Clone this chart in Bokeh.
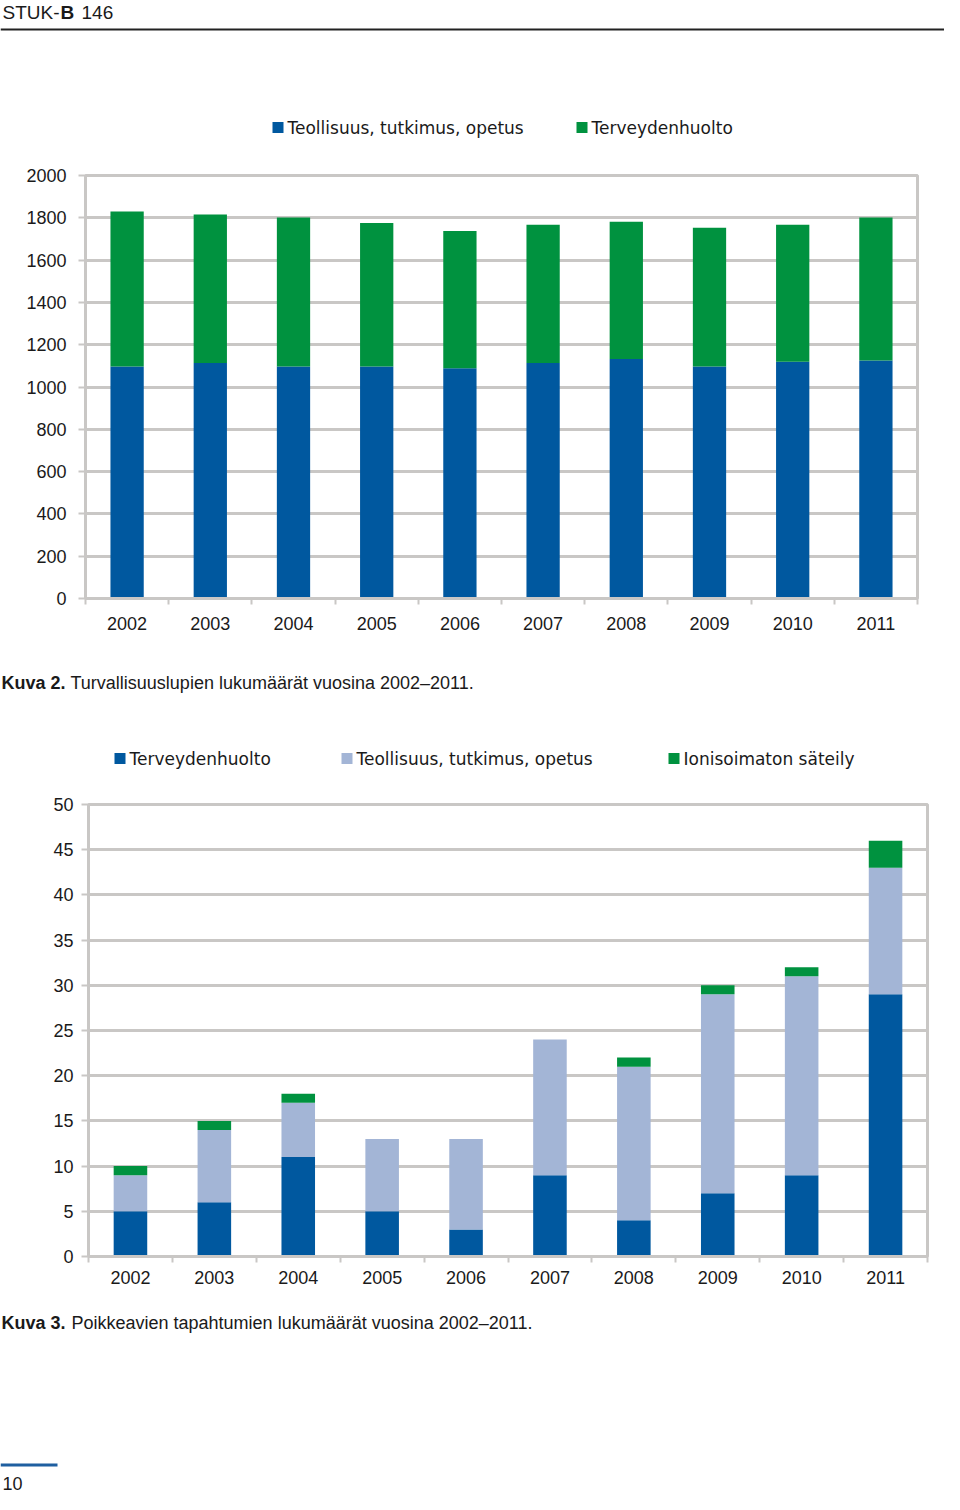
from bokeh.plotting import figure
from bokeh.models import (ColumnDataSource, Range1d, FixedTicker, Label, BoxAnnotation)
from bokeh.layouts import column
from bokeh.embed import file_html
from bokeh.resources import INLINE

# ---------------- data ----------------
years = ["2002", "2003", "2004", "2005", "2006", "2007", "2008", "2009", "2010", "2011"]

# Kuva 2: Turvallisuuslupien lukumäärät
lupa_teollisuus = [1097, 1113, 1097, 1097, 1089, 1114, 1132, 1097, 1119, 1125]
lupa_terveydenhuolto = [733, 703, 704, 678, 648, 653, 649, 656, 648, 676]
lupa_ticks = [0, 200, 400, 600, 800, 1000, 1200, 1400, 1600, 1800, 2000]
lupa_series = ["Teollisuus, tutkimus, opetus", "Terveydenhuolto"]

# Kuva 3: Poikkeavien tapahtumien lukumäärät
tap_terveydenhuolto = [5, 6, 11, 5, 3, 9, 4, 7, 9, 29]
tap_teollisuus = [4, 8, 6, 8, 10, 15, 17, 22, 22, 14]
tap_ionisoimaton = [1, 1, 1, 0, 0, 0, 1, 1, 1, 3]
tap_ticks = [0, 5, 10, 15, 20, 25, 30, 35, 40, 45, 50]
tap_series = ["Terveydenhuolto", "Teollisuus, tutkimus, opetus", "Ionisoimaton säteily"]

# ---------------- style ----------------
BLUE = "#00589f"
GREEN = "#00923f"
LIGHT = "#a3b5d6"
GRAY = "#c9c7c5"
TXT = "#1a1a1a"
FONT = "Liberation Sans"
LFONT = "DejaVu Sans"
W = 944

centers = [i + 0.5 for i in range(len(years))]
bounds = [i for i in range(len(years) + 1)]
labels_map = {c: y for c, y in zip(centers, years)}


def blank(h):
    p = figure(width=W, height=h, output_backend="svg", toolbar_location=None,
               x_axis_type=None, y_axis_type=None, min_border=0,
               min_border_left=0, min_border_right=0, min_border_top=0,
               min_border_bottom=0, frame_align=False,
               x_range=Range1d(0, 1), y_range=Range1d(0, 1))
    p.outline_line_color = None
    return p


def text(p, x, y, t, bold=False, size="18px", font=FONT):
    p.add_layout(Label(x=x, y=y, x_units="canvas", y_units="canvas", text=t,
                       text_font=font, text_font_size=size, text_color=TXT,
                       text_font_style="bold" if bold else "normal",
                       text_baseline="middle", text_align="left"))


def box(p, l, r, t, b, color):
    p.add_layout(BoxAnnotation(left=l, right=r, top=t, bottom=b,
                               left_units="canvas", right_units="canvas",
                               top_units="canvas", bottom_units="canvas",
                               fill_color=color, fill_alpha=1, line_color=None))


def legend_entry(p, x, yc, color, label):
    box(p, x, x + 11, yc - 5.5, yc + 5.5, color)
    text(p, x + 15, yc, label, font=LFONT, size="17px")


def style(p, yticks, ystand, xstand):
    p.outline_line_color = GRAY
    p.outline_line_width = 3
    p.xgrid.grid_line_color = None
    p.ygrid.grid_line_color = GRAY
    p.ygrid.grid_line_width = 3
    p.yaxis.ticker = FixedTicker(ticks=yticks)
    p.xaxis.ticker = FixedTicker(ticks=centers, minor_ticks=bounds)
    p.xaxis.major_label_overrides = labels_map
    for ax in (p.xaxis[0], p.yaxis[0]):
        ax.axis_line_color = GRAY
        ax.axis_line_width = 3
        ax.major_label_text_font = FONT
        ax.major_label_text_font_size = "18px"
        ax.major_label_text_color = TXT
    p.yaxis.major_tick_line_color = GRAY
    p.yaxis.major_tick_line_width = 2
    p.yaxis.major_tick_out = 7
    p.yaxis.major_tick_in = 0
    p.yaxis.minor_tick_line_color = None
    p.yaxis.major_label_standoff = ystand
    p.xaxis.major_tick_line_color = None
    p.xaxis.major_tick_out = 0
    p.xaxis.major_tick_in = 0
    p.xaxis.minor_tick_line_color = GRAY
    p.xaxis.minor_tick_line_width = 2
    p.xaxis.minor_tick_out = 6
    p.xaxis.minor_tick_in = 0
    p.xaxis.major_label_standoff = xstand


# ---------------- header + legend of Kuva 2 (page y 0..150) ----------------
f1 = blank(150)
text(f1, 2, 12, "STUK-", size="19px")
text(f1, 60, 12, "B", bold=True, size="19px")
text(f1, 81, 12, "146", size="19px")
box(f1, 0, W, 28, 30, "#222222")
legend_entry(f1, 272, 127, BLUE, lupa_series[0])
legend_entry(f1, 576, 127, GREEN, lupa_series[1])

# ---------------- Kuva 2 chart (page y 150..650) ----------------
pa = figure(width=W, height=500, output_backend="svg", toolbar_location=None,
            x_range=Range1d(0, 10), y_range=Range1d(0, 2000), frame_align=False,
            min_border_left=85, min_border_right=W - 917, min_border_top=25,
            min_border_bottom=52)
style(pa, lupa_ticks, 12, 12)
src_a = ColumnDataSource(dict(x=centers, teol=lupa_teollisuus, terv=lupa_terveydenhuolto))
pa.vbar_stack(["teol", "terv"], x="x", width=0.4, color=[BLUE, GREEN],
              line_color=None, source=src_a)

# ---------------- caption 2 + legend of Kuva 3 (page y 650..790) ----------------
f2 = blank(140)
text(f2, 1, 32, "Kuva 2.", bold=True)
text(f2, 70, 32, "Turvallisuuslupien lukumäärät vuosina 2002–2011.")
legend_entry(f2, 114, 108, BLUE, tap_series[0])
legend_entry(f2, 341, 108, LIGHT, tap_series[1])
legend_entry(f2, 668, 108, GREEN, tap_series[2])

# ---------------- Kuva 3 chart (page y 790..1295) ----------------
pb = figure(width=W, height=505, output_backend="svg", toolbar_location=None,
            x_range=Range1d(0, 10), y_range=Range1d(0, 50), frame_align=False,
            min_border_left=88, min_border_right=W - 927, min_border_top=14,
            min_border_bottom=39)
style(pb, tap_ticks, 8, 8)
src_b = ColumnDataSource(dict(x=centers, terv=tap_terveydenhuolto,
                              teol=tap_teollisuus, ion=tap_ionisoimaton))
pb.vbar_stack(["terv", "teol", "ion"], x="x", width=0.4,
              color=[BLUE, LIGHT, GREEN], line_color=None, source=src_b)

# ---------------- caption 3 + footer (page y 1295..1494) ----------------
f3 = blank(199)
text(f3, 1, 27, "Kuva 3.", bold=True)
text(f3, 71, 27, "Poikkeavien tapahtumien lukumäärät vuosina 2002–2011.")
box(f3, 0, 57, 168, 171, "#1f5fa0")
text(f3, 2, 188, "10")

layout = column(f1, pa, f2, pb, f3, spacing=0)
open("out.html", "w").write(file_html(layout, INLINE))
